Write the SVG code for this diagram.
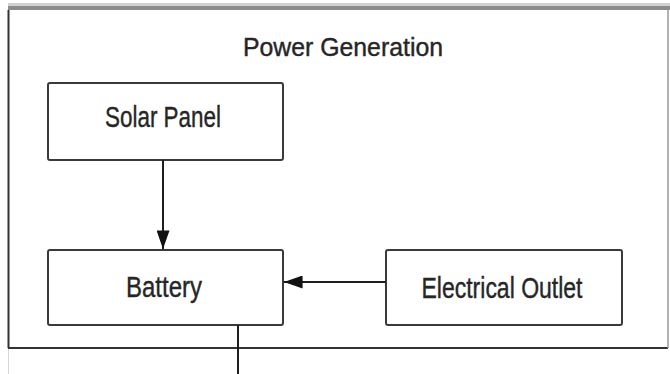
<svg xmlns="http://www.w3.org/2000/svg" width="670" height="374" viewBox="0 0 670 374">
  <style>
    .box { fill: #ffffff; stroke: #3a3a3a; stroke-width: 2; }
    .lbl { font-family: "Liberation Sans", Arial, sans-serif; fill: #262626; stroke: #262626; stroke-width: 0.4; text-anchor: middle; }
    .conn { stroke: #1e1e1e; stroke-width: 2; fill: none; }
  </style>
  <defs>
    <marker id="arrow" viewBox="0 0 20 14" refX="20" refY="7" markerWidth="19" markerHeight="13" markerUnits="userSpaceOnUse" orient="auto">
      <path d="M0,0 L20,7 L0,14 Z" fill="#111111"/>
    </marker>
  </defs>
  <rect x="0" y="0" width="670" height="374" fill="#ffffff"/>
  <g id="frame">
    <rect x="8" y="3" width="662" height="3" fill="#d2d2d2"/>
    <rect x="8" y="6" width="662" height="4" fill="#8c8c8c"/>
    <line x1="8.5" y1="10" x2="8.5" y2="348" stroke="#333333" stroke-width="2"/>
    <line x1="8" y1="348" x2="668" y2="348" stroke="#333333" stroke-width="2"/>
    <line x1="668" y1="10" x2="668" y2="348" stroke="#9a9a9a" stroke-width="1.5"/>
    <line x1="8.5" y1="349" x2="8.5" y2="374" stroke="#d6d6d6" stroke-width="1"/>
    <text class="lbl" x="343" y="56" font-size="25" textLength="200" lengthAdjust="spacingAndGlyphs">Power Generation</text>
  </g>
  <g id="solar-panel">
    <rect class="box" x="48" y="83" width="235" height="77" rx="2"/>
    <text class="lbl" x="163" y="127" font-size="30" textLength="116" lengthAdjust="spacingAndGlyphs">Solar Panel</text>
  </g>
  <g id="battery">
    <rect class="box" x="48" y="250" width="235" height="75" rx="2"/>
    <text class="lbl" x="164" y="297" font-size="30" textLength="76" lengthAdjust="spacingAndGlyphs">Battery</text>
  </g>
  <g id="electrical-outlet">
    <rect class="box" x="386" y="250" width="236" height="75" rx="2"/>
    <text class="lbl" x="502" y="298" font-size="29" textLength="161" lengthAdjust="spacingAndGlyphs">Electrical Outlet</text>
  </g>
  <g id="connectors">
    <line class="conn" x1="163" y1="160" x2="163" y2="249" marker-end="url(#arrow)"/>
    <line class="conn" x1="386" y1="282" x2="284" y2="282" marker-end="url(#arrow)"/>
    <line class="conn" x1="238" y1="325" x2="238" y2="374"/>
  </g>
</svg>
